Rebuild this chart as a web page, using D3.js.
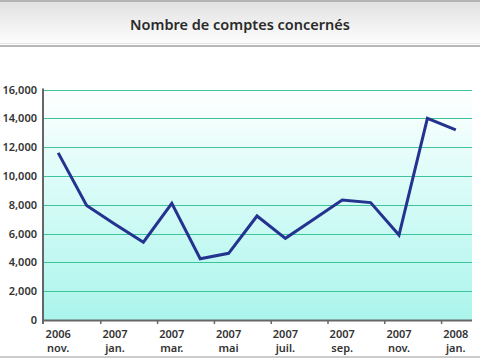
<!DOCTYPE html>
<html>
<head>
<meta charset="utf-8">
<script src="https://cdn.jsdelivr.net/npm/d3@7"></script>
<style>
  body { margin: 0; background: #fff; }
  svg { display: block; font-family: "Noto Sans", "DejaVu Sans", sans-serif; }
</style>
</head>
<body>
<div id="chart"></div>
<script>
// monthly counts, nov. 2006 -> jan. 2008
const months = ['2006-11', '2006-12', '2007-01', '2007-02', '2007-03', '2007-04', '2007-05', '2007-06',
    '2007-07', '2007-08', '2007-09', '2007-10', '2007-11', '2007-12', '2008-01'];
const values = [11600, 7950, 6650, 5400, 8100, 4250, 4630, 7220, 5670, 7000, 8330, 8150, 5900, 14000, 13200];
const monthNames = { '01': 'jan.', '03': 'mar.', '05': 'mai', '07': 'juil.', '09': 'sep.', '11': 'nov.' };
const yTicks = [0, 2000, 4000, 6000, 8000, 10000, 12000, 14000, 16000];
const title = 'Nombre de comptes concernés';

const width = 480, height = 360;
const plot = { left: 43, right: 472, top: 89.5, bottom: 320 };

const svg = d3.select('#chart').append('svg')
    .attr('width', width)
    .attr('height', height);

const defs = svg.append('defs');

// title bar gradient
const tg = defs.append('linearGradient').attr('id', 'titleGrad')
    .attr('x1', 0).attr('y1', 0).attr('x2', 0).attr('y2', 1);
tg.append('stop').attr('offset', '0%').attr('stop-color', '#e2e2e2');
tg.append('stop').attr('offset', '100%').attr('stop-color', '#fdfdfd');

// plot background gradient
const bg = defs.append('linearGradient').attr('id', 'plotGrad')
    .attr('x1', 0).attr('y1', 0).attr('x2', 0).attr('y2', 1);
bg.append('stop').attr('offset', '0%').attr('stop-color', '#ffffff');
bg.append('stop').attr('offset', '40%').attr('stop-color', '#dcfcf8');
bg.append('stop').attr('offset', '100%').attr('stop-color', '#aaf5ec');

// title
svg.append('rect')
    .attr('x', 0).attr('y', 2).attr('width', width).attr('height', 42)
    .attr('fill', 'url(#titleGrad)');
svg.append('rect').attr('x', 0).attr('y', 0).attr('width', width).attr('height', 2).attr('fill', '#b4b4b4');
svg.append('rect').attr('x', 0).attr('y', 43).attr('width', width).attr('height', 1).attr('fill', '#e4e4e4');
svg.append('rect').attr('x', 0).attr('y', 45).attr('width', width).attr('height', 2).attr('fill', '#b8b8b8');
svg.append('text')
    .attr('x', width / 2).attr('y', 30)
    .attr('text-anchor', 'middle')
    .attr('font-size', 14.5)
    .attr('font-weight', 600)
    .attr('fill', '#2a2a2a')
    .text(title);

// bottom frame line
svg.append('rect').attr('x', 0).attr('y', 356).attr('width', width).attr('height', 2).attr('fill', '#cccccc');

const x = d3.scaleBand().domain(months).range([44, 470]).padding(0);
const y = d3.scaleLinear().domain([0, 16000]).range([plot.bottom, plot.top]);

svg.append('rect')
    .attr('x', plot.left).attr('y', plot.top)
    .attr('width', plot.right - plot.left).attr('height', plot.bottom - plot.top)
    .attr('fill', 'url(#plotGrad)');

// gridlines
svg.append('g')
    .selectAll('line')
    .data(yTicks.slice(1))
    .join('line')
    .attr('x1', plot.left).attr('x2', plot.right)
    .attr('y1', d => Math.round(y(d)) + 0.5).attr('y2', d => Math.round(y(d)) + 0.5)
    .attr('stroke', '#3fc39b')
    .attr('stroke-width', 1);

// y axis labels
const yAxis = d3.axisLeft(y).tickValues(yTicks).tickFormat(d3.format(',')).tickSize(0).tickPadding(6);
svg.append('g')
    .attr('transform', `translate(${plot.left},0)`)
    .call(yAxis)
    .call(g => g.select('.domain').remove())
    .selectAll('text')
    .attr('font-size', 11)
    .attr('font-weight', 600)
    .attr('fill', '#333')
    .attr('font-family', '"Noto Sans", sans-serif');

// x axis ticks between every second month
const tickMonths = months.filter((d, i) => i % 2 === 1 && i < months.length - 1);
svg.append('g')
    .selectAll('line')
    .data(tickMonths)
    .join('line')
    .attr('x1', d => x(d) + x.bandwidth()).attr('x2', d => x(d) + x.bandwidth())
    .attr('y1', plot.bottom).attr('y2', plot.bottom + 4)
    .attr('stroke', '#666')
    .attr('stroke-width', 1.5);

// x labels: year on first line, month below
const labelMonths = months.filter((d, i) => i % 2 === 0);
const xLabels = svg.append('g')
    .attr('font-size', 11)
    .attr('font-weight', 600)
    .attr('fill', '#333')
    .attr('text-anchor', 'middle');
xLabels.selectAll('text.year')
    .data(labelMonths)
    .join('text')
    .attr('class', 'year')
    .attr('x', d => x(d) + x.bandwidth() / 2)
    .attr('y', 338)
    .text(d => d.slice(0, 4));
xLabels.selectAll('text.month')
    .data(labelMonths)
    .join('text')
    .attr('class', 'month')
    .attr('x', d => x(d) + x.bandwidth() / 2)
    .attr('y', 352)
    .text(d => monthNames[d.slice(5)]);

// axis lines
svg.append('line')
    .attr('x1', plot.left).attr('x2', plot.left)
    .attr('y1', plot.top - 1).attr('y2', plot.bottom + 4)
    .attr('stroke', '#666').attr('stroke-width', 2);
svg.append('line')
    .attr('x1', plot.left - 1).attr('x2', plot.right)
    .attr('y1', plot.bottom + 0.5).attr('y2', plot.bottom + 0.5)
    .attr('stroke', '#666').attr('stroke-width', 2);

// data line
const line = d3.line()
    .x((d, i) => x(months[i]) + x.bandwidth() / 2)
    .y(d => y(d));

svg.append('path')
    .datum(values)
    .attr('d', line)
    .attr('fill', 'none')
    .attr('stroke', '#24338f')
    .attr('stroke-width', 3)
    .attr('stroke-linejoin', 'miter');
</script>
</body>
</html>
